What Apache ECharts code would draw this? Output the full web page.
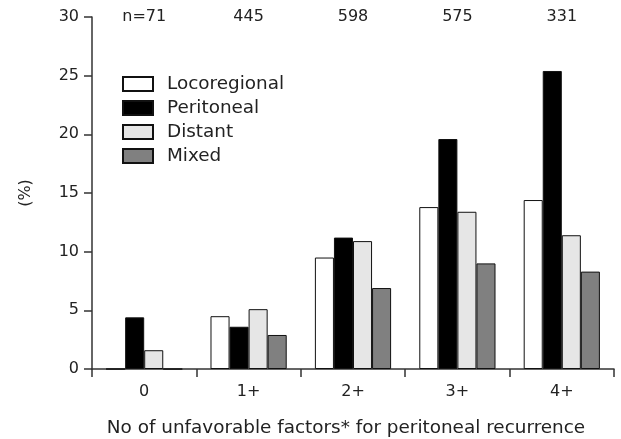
<!DOCTYPE html>
<html>
<head>
<meta charset="utf-8">
<script src="https://cdn.jsdelivr.net/npm/echarts@6/dist/echarts.min.js"></script>
<style>
  html, body { margin: 0; padding: 0; background: #fff; }
  #chart { width: 621px; height: 439px; }
</style>
</head>
<body>
<div id="chart"></div>
<script>
// categories (no of unfavorable factors) and patient counts
var categories = ['0', '1+', '2+', '3+', '4+'];
var counts = ['n=71', '445', '598', '575', '331'];

// recurrence rates (%)
var locoregional = [0, 4.5, 9.5, 13.8, 14.4];
var peritoneal = [4.4, 3.6, 11.2, 19.6, 25.4];
var distant = [1.6, 5.1, 10.9, 13.4, 11.4];
var mixed = [0, 2.9, 6.9, 9.0, 8.3];

var font = 'DejaVu Sans';
var ink = '#222';

function bar(name, data, color) {
  return {
    name: name,
    type: 'bar',
    data: data,
    barGap: '0%',
    barCategoryGap: '27%',
    itemStyle: { color: color, borderColor: '#111', borderWidth: 1 }
  };
}

var chart = echarts.init(document.getElementById('chart'));
chart.setOption({
  animation: false,
  textStyle: { fontFamily: font, color: ink },
  grid: { left: 92, right: 7, top: 17, bottom: 70, outerBoundsMode: 'none' },
  legend: {
    orient: 'vertical',
    left: 117,
    top: 70,
    icon: 'rect',
    itemWidth: 30,
    itemHeight: 14,
    itemGap: 6,
    textStyle: { fontFamily: font, fontSize: 18.4, color: ink, padding: [0, 0, 0, 9] },
    data: ['Locoregional', 'Peritoneal', 'Distant', 'Mixed']
  },
  xAxis: [
    {
      type: 'category',
      data: categories,
      position: 'bottom',
      axisLine: { lineStyle: { color: '#333', width: 1.5 } },
      axisTick: { show: true, length: 8, lineStyle: { color: '#333', width: 1.5 } },
      axisLabel: { fontFamily: font, fontSize: 16, color: ink, margin: 15 },
      name: 'No of unfavorable factors* for peritoneal recurrence',
      nameLocation: 'middle',
      nameGap: 50,
      nameTextStyle: { fontFamily: font, fontSize: 18.4, color: ink, padding: [0, 14, 0, 0] }
    },
    {
      type: 'category',
      data: counts,
      position: 'top',
      axisLine: { show: false },
      axisTick: { show: false },
      axisLabel: { fontFamily: font, fontSize: 16, color: ink, margin: 0, verticalAlign: 'middle' }
    }
  ],
  yAxis: {
    type: 'value',
    min: 0,
    max: 30,
    interval: 5,
    splitLine: { show: false },
    axisLine: { show: true, lineStyle: { color: '#333', width: 1.5 } },
    axisTick: { show: true, length: 8, lineStyle: { color: '#333', width: 1.5 } },
    axisLabel: { fontFamily: font, fontSize: 16, color: ink, margin: 13 },
    name: '(%)',
    nameLocation: 'middle',
    nameRotate: 90,
    nameGap: 58,
    nameTextStyle: { fontFamily: font, fontSize: 16, color: ink }
  },
  series: [
    bar('Locoregional', locoregional, '#ffffff'),
    bar('Peritoneal', peritoneal, '#000000'),
    bar('Distant', distant, '#e6e6e6'),
    bar('Mixed', mixed, '#808080')
  ]
});
</script>
</body>
</html>
